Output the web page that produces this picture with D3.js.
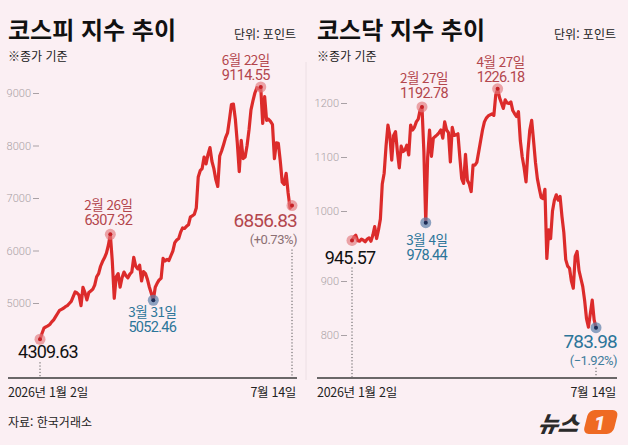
<!DOCTYPE html>
<html lang="ko">
<head>
<meta charset="UTF-8">
<title>코스피·코스닥 지수 추이</title>
<style>
  body { margin: 0; background: #fbeff3; }
  svg { display: block; font-family: "Noto Sans CJK KR", sans-serif; }
  .axis .tick text { font-family: Roboto, sans-serif; font-size: 11px; font-weight: 300; fill: #a9a1a5; }
  .axis .tick line { stroke: #a9a1a5; }
  .num { font-family: Roboto, sans-serif; }
  .series { fill: none; stroke: #dc2b2b; stroke-width: 3.2; stroke-linejoin: round; stroke-linecap: round; }
  .guide { stroke: #555; stroke-width: 1; stroke-dasharray: 1.2 2; }
</style>
<script src="https://d3js.org/d3.v7.min.js"></script>
</head>
<body>
<div id="chart"></div>
<script>
// KRX closed days (besides weekends) in the period
const holidays = ["2026-01-01", "2026-02-16", "2026-02-17", "2026-02-18", "2026-03-02",
                  "2026-05-01", "2026-05-05", "2026-05-25", "2026-06-03"];

// closing values, one per trading day, 2026-01-02 .. 2026-07-14
const kospiValues = [
  4309.63, 4420, 4520, 4545, 4565, 4590, 4640, 4680, 4740, 4800,
  4860, 4880, 4900, 4930, 4950, 4990, 5030, 5120, 5210, 5190,
  5150, 4950, 5300, 5200, 5060, 5200, 5230, 5260, 5340, 5500,
  5560, 5700, 5790, 5860, 5950, 6100, 6307.32, 5800, 5090, 5500,
  5560, 5300, 5480, 5590, 5520, 5480, 5550, 5590, 5870, 5700,
  5650, 5720, 5420, 5600, 5560, 5450, 5300, 5180, 5052.46, 5300,
  5380, 5440, 5470, 5850, 5800, 5830, 5810, 5900, 5990, 6150,
  6200, 6230, 6350, 6430, 6420, 6460, 6490, 6640, 6660, 6690,
  6810, 7400, 7520, 7560, 7780, 7650, 7830, 7960, 7700, 7560,
  7350, 7220, 7800, 7900, 8020, 8150, 8240, 8500, 8780, 8790,
  8500, 8050, 7500, 8100, 7750, 7780, 8000, 8300, 8680, 8850,
  9000, 9100, 9080, 9114.55, 8420, 8930, 8480, 8500, 8460, 8400,
  7750, 8050, 8040, 7700, 7300, 7260, 7470, 7100, 6807, 6856.83
];

const kosdaqValues = [
  945.57, 952, 955, 945, 944, 948, 946, 943, 948, 950,
  944, 955, 971, 949, 965, 985, 1050, 1070, 1120, 1159,
  1140, 1094, 1140, 1147, 1110, 1080, 1120, 1110, 1113, 1122,
  1104, 1159, 1150, 1155, 1165, 1170, 1187, 1192.78, 1110, 978.44,
  1100, 1150, 1101, 1135, 1138, 1141, 1145, 1150, 1135, 1165,
  1150, 1145, 1091, 1155, 1140, 1141, 1143, 1100, 1060, 1051,
  1105, 1057, 1050, 1036, 1085, 1085, 1090, 1110, 1130, 1150,
  1165, 1172, 1176, 1178, 1180, 1177, 1215, 1226.18, 1210, 1200,
  1190, 1206, 1200, 1199, 1202, 1186, 1180, 1175, 1184, 1130,
  1100, 1080, 1054, 1110, 1150, 1168, 1130, 1090, 1060, 1042,
  1025, 1023, 1040, 912, 965, 949, 1000, 1020, 1030, 1020,
  1027, 990, 960, 910, 898, 894, 870, 857, 916, 925,
  890, 875, 860, 834, 800, 785, 810, 835, 799, 783.98
];

const kospiTicks = [5000, 6000, 7000, 8000, 9000];
const kosdaqTicks = [800, 900, 1000, 1100, 1200];

const kospiNotes = [
  { date: "2026-02-26", day: "2월 26일", text: "6307.32", tone: "red" },
  { date: "2026-03-31", day: "3월 31일", text: "5052.46", tone: "blue" },
  { date: "2026-06-22", day: "6월 22일", text: "9114.55", tone: "red" }
];
const kosdaqNotes = [
  { date: "2026-02-27", day: "2월 27일", text: "1192.78", tone: "red" },
  { date: "2026-03-04", day: "3월 4일", text: "978.44", tone: "blue" },
  { date: "2026-04-27", day: "4월 27일", text: "1226.18", tone: "red" }
];
const kospiStart = "4309.63", kospiEnd = "6856.83", kospiChange = "(+0.73%)";
const kosdaqStart = "945.57", kosdaqEnd = "783.98", kosdaqChange = "(−1.92%)";

const W = 628, H = 445;
const fmt = d3.timeFormat("%Y-%m-%d");
const tradingDays = d3.timeDay.range(new Date(2026, 0, 2), new Date(2026, 6, 15))
  .filter(d => d.getDay() % 6 !== 0 && !holidays.includes(fmt(d)))
  .map(fmt);

const colors = {
  red:  { text: "#b3464d", ring: "rgba(226,120,125,0.65)", dot: "#c62026" },
  blue: { text: "#2c7599", ring: "rgba(92,128,170,0.7)", dot: "#1c2c55" }
};

const svg = d3.select("#chart").append("svg").attr("width", W).attr("height", H);
svg.append("rect").attr("width", W).attr("height", H).attr("fill", "#fbeff3");

// faint panel separator
svg.append("line").attr("x1", 306).attr("x2", 306).attr("y1", 62).attr("y2", 380)
  .attr("stroke", "#ecdfe4").attr("stroke-width", 1);

function drawPanel(cfg) {
  const g = svg.append("g");
  const x = d3.scalePoint().domain(tradingDays).range(cfg.xRange);
  const y = d3.scaleLinear().domain(cfg.yDomain).range(cfg.yRange);
  // the printed tick ruler does not follow the data scale exactly in the source graphic
  const yTicks = cfg.tickScale || y;
  const data = cfg.values.map((v, i) => ({ date: tradingDays[i], v }));

  g.append("text").attr("x", cfg.left).attr("y", 39)
    .attr("font-size", 24).attr("font-weight", 700).attr("fill", "#111")
    .text(cfg.title);
  g.append("text").attr("x", cfg.unitX).attr("y", 39).attr("text-anchor", "end")
    .attr("font-size", 12).attr("fill", "#222").text("단위: 포인트");
  g.append("text").attr("x", cfg.left).attr("y", 61)
    .attr("font-size", 12).attr("fill", "#222").text("※종가 기준");

  const axis = g.append("g").attr("class", "axis")
    .attr("transform", `translate(${cfg.axisX},0)`)
    .call(d3.axisLeft(yTicks).tickValues(cfg.ticks).tickFormat(d3.format("d"))
      .tickSize(6).tickPadding(2));
  axis.select(".domain").remove();

  // baseline + date labels
  g.append("line").attr("x1", cfg.left).attr("x2", cfg.baseEnd)
    .attr("y1", 378).attr("y2", 378).attr("stroke", "#3a3a3a").attr("stroke-width", 1.5);
  g.append("text").attr("x", cfg.left).attr("y", 397)
    .attr("font-size", 12.5).attr("letter-spacing", -0.3).attr("fill", "#222")
    .text("2026년 1월 2일");
  g.append("text").attr("x", cfg.baseEnd - 1).attr("y", 397).attr("text-anchor", "end")
    .attr("font-size", 12.5).attr("letter-spacing", -0.3).attr("fill", "#222")
    .text("7월 14일");

  const first = data[0], last = data[data.length - 1];
  g.append("line").attr("class", "guide")
    .attr("x1", x(first.date)).attr("x2", x(first.date))
    .attr("y1", y(first.v) + cfg.startGap).attr("y2", 377);
  g.append("line").attr("class", "guide")
    .attr("x1", x(last.date)).attr("x2", x(last.date))
    .attr("y1", y(last.v) + cfg.endGap).attr("y2", 377);

  g.append("path").datum(data).attr("class", "series")
    .attr("d", d3.line().x(d => x(d.date)).y(d => y(d.v)));

  function marker(d, tone) {
    g.append("circle").attr("cx", x(d.date)).attr("cy", y(d.v)).attr("r", 5.5)
      .attr("fill", colors[tone].ring);
    g.append("circle").attr("cx", x(d.date)).attr("cy", y(d.v)).attr("r", 2)
      .attr("fill", colors[tone].dot);
  }

  // start / end markers and values
  marker(first, "red");
  marker(last, cfg.endTone);
  g.append("text").attr("class", "num")
    .attr("x", x(first.date) + cfg.startDx).attr("y", y(first.v) + cfg.startDy)
    .attr("text-anchor", "middle").attr("font-size", 18).attr("letter-spacing", -0.8)
    .attr("fill", "#111").text(cfg.startText);

  const endX = x(last.date) + cfg.endDx;
  const endLabel = g.append("text").attr("class", "num")
    .attr("x", endX).attr("y", y(last.v) + cfg.endDy).attr("text-anchor", "end");
  endLabel.append("tspan").attr("font-size", 19).attr("letter-spacing", -0.8)
    .attr("fill", colors[cfg.endTone].text).text(cfg.endText);
  endLabel.append("tspan").attr("x", endX).attr("dy", 17)
    .attr("font-size", 13).attr("letter-spacing", -0.5)
    .attr("fill", cfg.endTone === "red" ? "#8c6f73" : "#3f7d9c").text(cfg.changeText);

  // extremes
  cfg.notes.forEach((n, k) => {
    const d = data.find(p => p.date === n.date);
    const off = cfg.noteOffsets[k];
    marker(d, n.tone);
    const tx = x(d.date) + off[0], ty = y(d.v) + off[1];
    const label = g.append("text").attr("x", tx).attr("y", ty)
      .attr("text-anchor", "middle").attr("fill", colors[n.tone].text);
    label.append("tspan").attr("font-size", 13.5).attr("letter-spacing", -0.5).text(n.day);
    label.append("tspan").attr("class", "num").attr("x", tx).attr("dy", 15)
      .attr("font-size", 14.5).attr("letter-spacing", -0.7).text(n.text);
  });
}

drawPanel({
  title: "코스피 지수 추이", left: 8, unitX: 296, axisX: 39, baseEnd: 297,
  xRange: [40, 292], yDomain: [5000, 9000], yRange: [303, 93], ticks: kospiTicks,
  values: kospiValues, notes: kospiNotes,
  noteOffsets: [[-2, -24], [-1, 17], [-15, -22]],
  startText: kospiStart, startDx: 8, startDy: 19, startGap: 23,
  endText: kospiEnd, changeText: kospiChange, endTone: "red",
  endDx: 5, endDy: 21, endGap: 44
});

drawPanel({
  title: "코스닥 지수 추이", left: 317, unitX: 616, axisX: 347, baseEnd: 617,
  xRange: [352, 596], yDomain: [1000, 1200], yRange: [211, 103], ticks: kosdaqTicks,
  tickScale: d3.scaleLinear().domain([800, 900, 1000, 1200]).range([335, 281, 211, 103]),
  values: kosdaqValues, notes: kosdaqNotes,
  noteOffsets: [[2, -24], [1, 22], [3, -22]],
  startText: kosdaqStart, startDx: -2, startDy: 24, startGap: 27,
  endText: kosdaqEnd, changeText: kosdaqChange, endTone: "blue",
  endDx: 21, endDy: 20, endGap: 40
});

// source
svg.append("text").attr("x", 8).attr("y", 427).attr("font-size", 12).attr("fill", "#222")
  .text("자료: 한국거래소");

// News1 mark
const logo = svg.append("g").attr("transform", "translate(541,409)");
logo.append("text").attr("x", 0).attr("y", 23).attr("font-size", 22).attr("font-weight", 900)
  .attr("font-style", "italic").attr("fill", "#2a2a2a").attr("transform", "skewX(-10)")
  .text("뉴스");
logo.append("rect").attr("x", 48).attr("y", 1).attr("width", 30).attr("height", 24).attr("rx", 6)
  .attr("fill", "#ef6a23").attr("transform", "skewX(-14)");
logo.append("text").attr("x", 53).attr("y", 21).attr("font-size", 20).attr("font-weight", 900)
  .attr("font-style", "italic").attr("fill", "#fbeff3").attr("font-family", "Roboto, sans-serif")
  .text("1");
</script>
</body>
</html>
